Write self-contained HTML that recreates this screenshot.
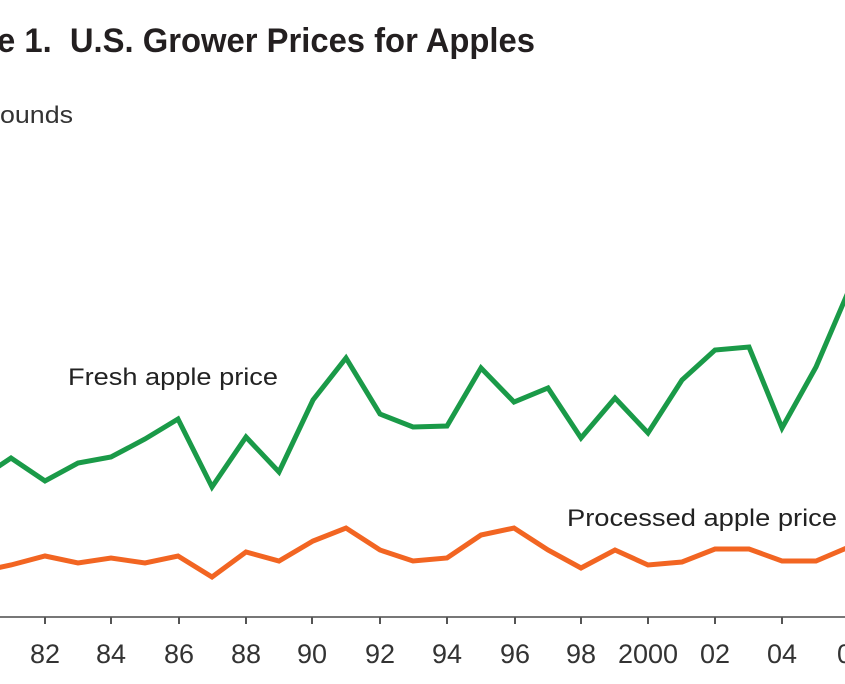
<!DOCTYPE html>
<html><head><style>html,body{margin:0;padding:0;background:#fff;}svg{display:block}text{white-space:pre}</style></head>
<body>
<svg width="845" height="684" viewBox="0 0 845 684" xmlns="http://www.w3.org/2000/svg" font-family="Liberation Sans, sans-serif">
<text x="-3" y="52" font-size="34" font-weight="bold" fill="#231f20" textLength="538" lengthAdjust="spacingAndGlyphs">e 1.  U.S. Grower Prices for Apples</text>
<text x="0" y="123" font-size="24" fill="#333" textLength="73" lengthAdjust="spacingAndGlyphs">ounds</text>
<text x="68" y="385" font-size="24" fill="#222" textLength="210" lengthAdjust="spacingAndGlyphs">Fresh apple price</text>
<text x="567" y="526" font-size="24" fill="#222" textLength="270" lengthAdjust="spacingAndGlyphs">Processed apple price</text>
<line x1="0" y1="617" x2="845" y2="617" stroke="#777" stroke-width="2"/>
<g stroke="#555" stroke-width="2">
<line x1="45" y1="617" x2="45" y2="624"/><line x1="111" y1="617" x2="111" y2="624"/><line x1="179" y1="617" x2="179" y2="624"/><line x1="246" y1="617" x2="246" y2="624"/><line x1="312" y1="617" x2="312" y2="624"/><line x1="380" y1="617" x2="380" y2="624"/><line x1="447" y1="617" x2="447" y2="624"/><line x1="515" y1="617" x2="515" y2="624"/><line x1="581" y1="617" x2="581" y2="624"/><line x1="648" y1="617" x2="648" y2="624"/><line x1="715" y1="617" x2="715" y2="624"/><line x1="782" y1="617" x2="782" y2="624"/>
</g>
<g font-size="27" fill="#333" text-anchor="middle">
<text x="-22" y="663">80</text><text x="45" y="663">82</text><text x="111" y="663">84</text><text x="179" y="663">86</text><text x="246" y="663">88</text><text x="312" y="663">90</text><text x="380" y="663">92</text><text x="447" y="663">94</text><text x="515" y="663">96</text><text x="581" y="663">98</text><text x="648" y="663">2000</text><text x="715" y="663">02</text><text x="782" y="663">04</text><text x="852" y="663">06</text>
</g>
<polyline fill="none" stroke="#1a9a48" stroke-width="5" stroke-linejoin="miter" points="-22,480 11,458 45,481 78,463 111,457 145,439 178,419 212,487 246,437 279,472 313,400 346,358 380,414 413,427 447,426 481,368 514,402 548,388 581,438 615,398 648,433 682,380 715,350 749,347 782,428 816,367 849,290"/>
<polyline fill="none" stroke="#f26522" stroke-width="5" stroke-linejoin="miter" points="-22,572 11,565 45,556 78,563 111,558 145,563 178,556 212,577 246,552 279,561 313,541 346,528 380,550 413,561 447,558 481,535 514,528 548,550 581,568 615,550 648,565 682,562 715,549 749,549 782,561 816,561 849,547"/>
</svg>
</body></html>
